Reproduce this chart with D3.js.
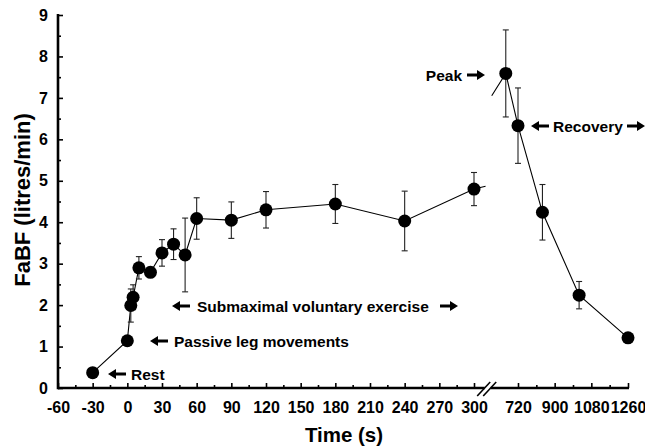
<!DOCTYPE html>
<html>
<head>
<meta charset="utf-8">
<script src="https://cdn.jsdelivr.net/npm/d3@7"></script>
<style>
  body { margin: 0; background: #fff; }
  svg text { font-family: "Liberation Sans", Arial, sans-serif; font-weight: bold; fill: #000; }
</style>
</head>
<body>
<svg id="chart" width="645" height="446"></svg>
<script>
// exercise phase (linear time axis, -60..300 s)
const timeEx = [-30, 0, 3, 5, 10, 20, 30, 40, 50, 60, 90, 120, 180, 240, 300];
const fabfEx = [0.37, 1.14, 1.99, 2.19, 2.9, 2.79, 3.26, 3.47, 3.21, 4.09, 4.05, 4.3, 4.44, 4.03, 4.8];
const semEx  = [0.05, 0.1, 0.4, 0.3, 0.27, 0.08, 0.32, 0.37, 0.89, 0.5, 0.44, 0.44, 0.47, 0.72, 0.4];

// peak + recovery phase (after the axis break)
const timeRec = [660, 720, 840, 1020, 1260];
const fabfRec = [7.59, 6.33, 4.24, 2.24, 1.21];
const semRec  = [1.05, 0.91, 0.67, 0.33, 0.08];

// where the joining line is cut at the break
const stubLeft = [310, 4.87];
const stubRight = [591, 7.05];

const xTicksLeft = [-60, -30, 0, 30, 60, 90, 120, 150, 180, 210, 240, 270, 300];
const xTicksRight = [720, 900, 1080, 1260];
const yTicks = [0, 1, 2, 3, 4, 5, 6, 7, 8, 9];

const svg = d3.select("#chart");

const xL = d3.scaleLinear().domain([-60, 300]).range([58, 474]);
const xR = d3.scaleLinear().domain([720, 1260]).range([518, 628]);
const y = d3.scaleLinear().domain([0, 9]).range([388, 15]);

const axisW = 2.6;
const plain = d => String(d);

// y axis
const yAxis = svg.append("g").attr("transform", "translate(58,0)")
    .call(d3.axisLeft(y).tickValues(yTicks).tickSize(-5).tickSizeOuter(0).tickPadding(10).tickFormat(plain));
yAxis.selectAll("text").style("font-size", "16px");
svg.append("g").attr("transform", "translate(58,0)")
    .call(d3.axisLeft(y).tickValues(d3.range(0.5, 9, 1)).tickSize(-3).tickFormat(""))
    .select(".domain").remove();

// x axis, left part
const xa1 = svg.append("g").attr("transform", "translate(0,388)")
    .call(d3.axisBottom(xL).tickValues(xTicksLeft).tickSize(-5).tickSizeOuter(0).tickPadding(14).tickFormat(plain));
svg.append("g").attr("transform", "translate(0,388)")
    .call(d3.axisBottom(xL).tickValues(d3.range(-45, 300, 30)).tickSize(-3).tickFormat(""))
    .select(".domain").remove();

// x axis, right part
const xa2 = svg.append("g").attr("transform", "translate(0,388)")
    .call(d3.axisBottom(xR).tickValues(xTicksRight).tickSize(-5).tickSizeOuter(0).tickPadding(14).tickFormat(plain));
svg.append("g").attr("transform", "translate(0,388)")
    .call(d3.axisBottom(xR).tickValues([810, 990, 1170]).tickSize(-3).tickFormat(""))
    .select(".domain").remove();

svg.selectAll(".domain").remove();
svg.selectAll(".tick line").attr("stroke", "#000").attr("stroke-width", 1.6);
xa1.selectAll("text").style("font-size", "16px");
xa2.selectAll("text").style("font-size", "16px");

// axis lines drawn by hand so the x axis can have its break
const bx = xL(311);
svg.append("line").attr("x1", 58).attr("x2", 58).attr("y1", y(9) - 1).attr("y2", y(0) + axisW / 2)
    .attr("stroke", "#000").attr("stroke-width", axisW);
svg.append("line").attr("x1", 58).attr("x2", bx - 2).attr("y1", y(0)).attr("y2", y(0))
    .attr("stroke", "#000").attr("stroke-width", axisW);
svg.append("line").attr("x1", bx + 4).attr("x2", xR(1260) + 1).attr("y1", y(0)).attr("y2", y(0))
    .attr("stroke", "#000").attr("stroke-width", axisW);
[bx - 3, bx + 3].forEach(cx => {
    svg.append("line")
        .attr("x1", cx - 6.5).attr("y1", y(0) + 8)
        .attr("x2", cx + 6.5).attr("y2", y(0) - 6)
        .attr("stroke", "#000").attr("stroke-width", 1.6);
});

// axis titles
svg.append("text").attr("x", 344).attr("y", 442).attr("text-anchor", "middle")
    .style("font-size", "20.5px").text("Time (s)");
svg.append("text").attr("transform", "translate(30,200) rotate(-90)").attr("text-anchor", "middle")
    .style("font-size", "22px").text("FaBF (litres/min)");

const left = timeEx.map((t, i) => ({ x: xL(t), v: fabfEx[i], e: semEx[i] }));
const right = timeRec.map((t, i) => ({ x: xR(t), v: fabfRec[i], e: semRec[i] }));
const pts = left.concat(right);

// joining lines
const line = d3.line().x(d => d[0]).y(d => d[1]);
svg.append("path")
    .attr("d", line(left.map(d => [d.x, y(d.v)]).concat([[xL(stubLeft[0]), y(stubLeft[1])]])))
    .attr("fill", "none").attr("stroke", "#000").attr("stroke-width", 1.1);
svg.append("path")
    .attr("d", line([[xR(stubRight[0]), y(stubRight[1])]].concat(right.map(d => [d.x, y(d.v)]))))
    .attr("fill", "none").attr("stroke", "#000").attr("stroke-width", 1.1);

// error bars
const eb = svg.append("g").attr("stroke", "#222").attr("stroke-width", 1.1);
eb.selectAll("line.v").data(pts).enter().append("line")
    .attr("x1", d => d.x).attr("x2", d => d.x)
    .attr("y1", d => y(d.v + d.e)).attr("y2", d => y(d.v - d.e));
eb.selectAll("line.top").data(pts).enter().append("line")
    .attr("x1", d => d.x - 3).attr("x2", d => d.x + 3)
    .attr("y1", d => y(d.v + d.e)).attr("y2", d => y(d.v + d.e));
eb.selectAll("line.bot").data(pts).enter().append("line")
    .attr("x1", d => d.x - 3).attr("x2", d => d.x + 3)
    .attr("y1", d => y(d.v - d.e)).attr("y2", d => y(d.v - d.e));

// points
svg.append("g").selectAll("circle").data(pts).enter().append("circle")
    .attr("cx", d => d.x).attr("cy", d => y(d.v)).attr("r", 6.5).attr("fill", "#000");

// annotations with block arrows
function arrow(x, yy, dir) {
    // x = tip, dir = -1 points left, 1 points right
    const len = 18, head = 8, hh = 5, sh = 1.5;
    const p = [
        [x, yy], [x - dir * head, yy - hh], [x - dir * head, yy - sh],
        [x - dir * len, yy - sh], [x - dir * len, yy + sh], [x - dir * head, yy + sh],
        [x - dir * head, yy + hh]
    ];
    svg.append("path").attr("d", "M" + p.join("L") + "Z").attr("fill", "#000");
}
function label(x, yy, txt, anchor) {
    svg.append("text").attr("x", x).attr("y", yy + 5.5).attr("text-anchor", anchor || "start")
        .style("font-size", "15.5px").text(txt);
}

arrow(108, 374, -1); label(131, 374, "Rest");
arrow(150, 341, -1); label(174, 341, "Passive leg movements");
arrow(172, 306, -1); label(197, 306, "Submaximal voluntary exercise"); arrow(458, 306, 1);
label(462, 75, "Peak", "end"); arrow(485, 75, 1);
arrow(531, 126, -1); label(553, 126, "Recovery"); arrow(645, 126, 1);
</script>
</body>
</html>
